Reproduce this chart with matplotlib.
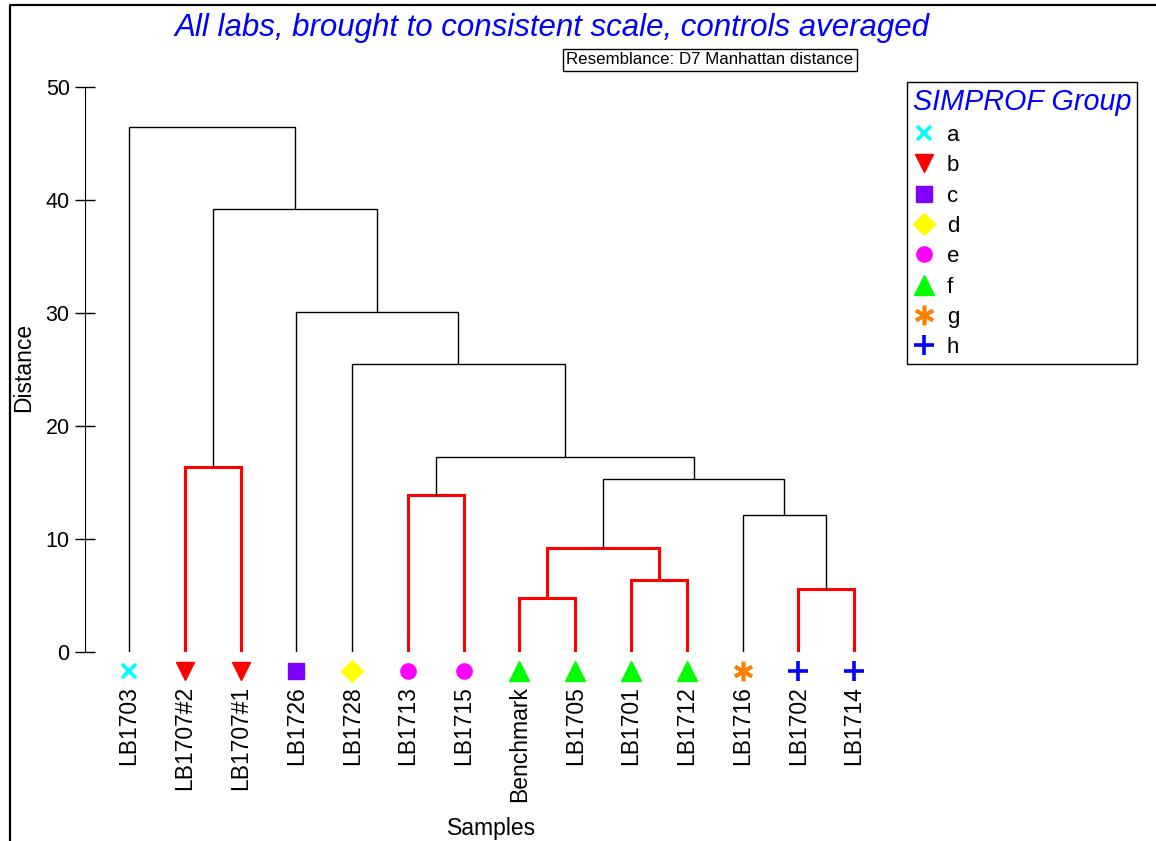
import matplotlib
matplotlib.use("Agg")
import matplotlib.pyplot as plt
from matplotlib.lines import Line2D

plt.rcParams['font.family'] = ['Liberation Sans', 'DejaVu Sans']

# leaves in dendrogram order and their SIMPROF group
samples = ['LB1703', 'LB1707#2', 'LB1707#1', 'LB1726', 'LB1728', 'LB1713', 'LB1715',
           'Benchmark', 'LB1705', 'LB1701', 'LB1712', 'LB1716', 'LB1702', 'LB1714']
sample_groups = ['a', 'b', 'b', 'c', 'd', 'e', 'e', 'f', 'f', 'f', 'f', 'g', 'h', 'h']

# merges (left node, right node, distance); leaves are 0..13, new nodes from 14 on
merges = [
    (1, 2, 16.4),    # 14
    (5, 6, 13.9),    # 15
    (7, 8, 4.8),     # 16
    (9, 10, 6.35),   # 17
    (16, 17, 9.2),   # 18
    (12, 13, 5.6),   # 19
    (11, 19, 12.1),  # 20
    (18, 20, 15.3),  # 21
    (15, 21, 17.3),  # 22
    (4, 22, 25.5),   # 23
    (3, 23, 30.1),   # 24
    (14, 24, 39.2),  # 25
    (0, 25, 46.5),   # 26
]

group_names = ['a', 'b', 'c', 'd', 'e', 'f', 'g', 'h']
group_colors = ['#00FFFF', '#FF0000', '#8000FF', '#FFFF00', '#FF00FF', '#00FF00', '#FF8000', '#0000FF']
group_markers = ['x', 'v', 's', 'D', 'o', '^', (6, 2, 0), '+']
group_sizes = [10, 13.5, 12, 11, 11, 14, 14, 15]
thin_markers = ('x', '+', (6, 2, 0))

fig = plt.figure(figsize=(11.56, 8.41), dpi=100)
W, H = 1156, 841
ax = fig.add_axes([85 / W, 189 / H, 797 / W, 565 / H])

# node positions
xpos = {i: i + 1 for i in range(len(samples))}
ypos = {i: 0.0 for i in range(len(samples))}
members = {i: {sample_groups[i]} for i in range(len(samples))}
node = len(samples)
for l, r, d in merges:
    grp = members[l] | members[r]
    red = len(grp) == 1
    ax.plot([xpos[l], xpos[l], xpos[r], xpos[r]], [ypos[l], d, d, ypos[r]],
            color='#FF0000' if red else 'black', lw=2.2 if red else 1.0,
            solid_joinstyle='miter', solid_capstyle='butt')
    xpos[node] = (xpos[l] + xpos[r]) / 2
    ypos[node] = d
    members[node] = grp
    node += 1

# leaf symbols and labels
for g, c, m, s in zip(group_names, group_colors, group_markers, group_sizes):
    xs = [i + 1 for i, sg in enumerate(sample_groups) if sg == g]
    ax.plot(xs, [-1.65] * len(xs), ls='none', marker=m, ms=s, color=c,
            mec=c, mew=2.6 if m in thin_markers else 1, clip_on=False)

for i, name in enumerate(samples):
    ax.text(i + 1, -3.0, name, rotation=90, ha='center', va='top', fontsize=16.5)

ax.set_xlim(0.21, 14.5)
ax.set_ylim(0, 50)
ax.set_yticks(range(0, 51, 10))
ax.tick_params(axis='y', direction='inout', length=14, width=1, labelsize=15.5, pad=4)
ax.set_xticks([])
for side in ('top', 'right', 'bottom'):
    ax.spines[side].set_visible(False)
ax.spines['left'].set_bounds(0, 50)
ax.patch.set_visible(False)

fig.text(24 / W, 1 - 367 / H, 'Distance', rotation=90, ha='center', va='center', fontsize=16.5)
fig.text(492 / W, 1 - 829 / H, 'Samples', ha='center', va='center', fontsize=16.5)
fig.text(552 / W, 1 - 28 / H, 'All labs, brought to consistent scale, controls averaged',
         ha='center', va='center', fontsize=22.5, style='italic', color='#0000FF')
fig.text(710 / W, 1 - 60 / H, 'Resemblance: D7 Manhattan distance', ha='center', va='center',
         fontsize=12.2, bbox=dict(boxstyle='square,pad=0.2', fc='white', ec='black', lw=1))

# legend
handles = [Line2D([], [], ls='none', marker=m, ms=s, color=c, mec=c,
                  mew=2.6 if m in thin_markers else 1)
           for c, m, s in zip(group_colors, group_markers, group_sizes)]
leg = fig.legend(handles, group_names, title='SIMPROF Group', loc='upper left',
                 bbox_to_anchor=(907 / W, 1 - 82 / H), bbox_transform=fig.transFigure,
                 borderaxespad=0, fontsize=16, labelspacing=0.42, handlelength=1.0,
                 handletextpad=0.55, borderpad=0.25, fancybox=False, edgecolor='black',
                 framealpha=1, alignment='left',
                 title_fontproperties={'size': 20.7, 'style': 'italic'})
leg.get_title().set_color('#0000FF')
leg.get_frame().set_linewidth(1)

# outer frame
fig.add_artist(Line2D([10 / W, 10 / W, 1], [0, 1 - 5 / H, 1 - 5 / H], color='black', lw=1.6,
                      transform=fig.transFigure))

fig.savefig('out.png', dpi=100)
